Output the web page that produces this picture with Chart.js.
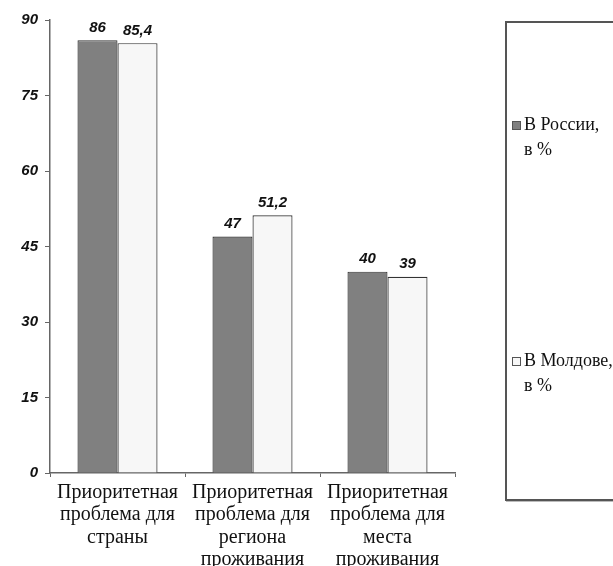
<!DOCTYPE html>
<html>
<head>
<meta charset="utf-8">
<script src="https://cdn.jsdelivr.net/npm/chart.js@4/dist/chart.umd.min.js"></script>
<style>
  html, body { margin: 0; padding: 0; background: #fff; overflow: hidden; }
  #wrap { position: relative; width: 613px; height: 566px; overflow: hidden; }
  #chart { position: absolute; left: 0; top: 0; }
  #legend {
    position: absolute; left: 505px; top: 21px; width: 200px; height: 476px;
    border: 2px solid #555; box-shadow: 1px 1px 0 #bbb;
    font-family: "Liberation Serif", "Times New Roman", serif; font-size: 18px; line-height: 25px;
    color: #111;
  }
  .item { position: absolute; left: 5px; display: flex; align-items: flex-start; }
  .item .box { flex: none; width: 7px; height: 7px; border: 1px solid #555; margin-top: 9px; margin-right: 3px; }
  .item .txt { width: 80px; }
</style>
</head>
<body>
<div id="wrap">
  <canvas id="chart" width="613" height="566"></canvas>
  <div id="legend"></div>
</div>
<script>
  // categories and values
  var CATEGORIES = [
    ["Приоритетная", "проблема для", "страны"],
    ["Приоритетная", "проблема для", "региона", "проживания"],
    ["Приоритетная", "проблема для", "места", "проживания"]
  ];
  var SERIES_NAMES = ["В России, в %", "В Молдове, в %"];
  var RUSSIA = [86, 47, 40];
  var MOLDOVA = [85.4, 51.2, 39];
  var Y_TICKS = [0, 15, 30, 45, 60, 75, 90];

  var FILLS = ["#808080", "#f7f7f7"];
  var LEGEND_TOPS = [112, 348];

  function fmt(v) { return String(v).replace(".", ","); }

  /* ---------- подписи значений над столбцами ---------- */
  var valueLabels = {
    id: "valueLabels",
    afterDatasetsDraw: function (chart) {
      var ctx = chart.ctx;
      ctx.save();
      ctx.font = 'italic bold 15px "Liberation Sans", Arial, sans-serif';
      ctx.fillStyle = "#111";
      ctx.textAlign = "center";
      ctx.textBaseline = "bottom";
      chart.data.datasets.forEach(function (ds, i) {
        chart.getDatasetMeta(i).data.forEach(function (bar, j) {
          ctx.fillText(fmt(ds.data[j]), bar.x, bar.y - 5);
        });
      });
      ctx.restore();
    }
  };

  var chart = new Chart(document.getElementById("chart"), {
    type: "bar",
    data: {
      labels: CATEGORIES,
      datasets: [
        { label: SERIES_NAMES[0], data: RUSSIA, backgroundColor: FILLS[0], borderColor: "#333", borderWidth: 1.2 },
        { label: SERIES_NAMES[1], data: MOLDOVA, backgroundColor: FILLS[1], borderColor: "#333", borderWidth: 1.2 }
      ]
    },
    options: {
      responsive: false,
      animation: false,
      devicePixelRatio: 1,
      layout: { padding: { top: 20, right: 158, left: 0, bottom: 0 } },
      datasets: { bar: { categoryPercentage: 0.593, barPercentage: 1 } },
      plugins: { legend: { display: false }, tooltip: { enabled: false } },
      scales: {
        x: {
          grid: { drawOnChartArea: false, tickLength: 4, color: "#666" },
          border: { color: "#666", width: 1.5 },
          ticks: {
            padding: 4,
            color: "#111",
            maxRotation: 0,
            autoSkip: false,
            font: { family: '"Liberation Serif", "Times New Roman", serif', size: 20, lineHeight: 1.13 }
          },
          afterFit: function (scale) { scale.height = 93; }
        },
        y: {
          min: 0,
          max: 90,
          grid: { drawOnChartArea: false, tickLength: 5, color: "#666" },
          border: { color: "#666", width: 1.5 },
          afterBuildTicks: function (scale) {
            scale.ticks = Y_TICKS.map(function (v) { return { value: v }; });
          },
          ticks: {
            padding: 7,
            color: "#111",
            font: { family: '"Liberation Sans", Arial, sans-serif', size: 15, style: "italic", weight: "bold" }
          },
          afterFit: function (scale) { scale.width = 50; }
        }
      }
    },
    plugins: [valueLabels]
  });

  /* ---------- легенда ---------- */
  var legend = document.getElementById("legend");
  chart.data.datasets.forEach(function (ds, i) {
    var item = document.createElement("div");
    item.className = "item";
    item.style.top = (LEGEND_TOPS[i] - 23) + "px";
    var box = document.createElement("span");
    box.className = "box";
    box.style.background = ds.backgroundColor;
    var txt = document.createElement("span");
    txt.className = "txt";
    // keep "В" with the next word, wrap before "в %"
    txt.textContent = ds.label.replace(" ", "\u00a0");
    item.appendChild(box);
    item.appendChild(txt);
    legend.appendChild(item);
  });
</script>
</body>
</html>
